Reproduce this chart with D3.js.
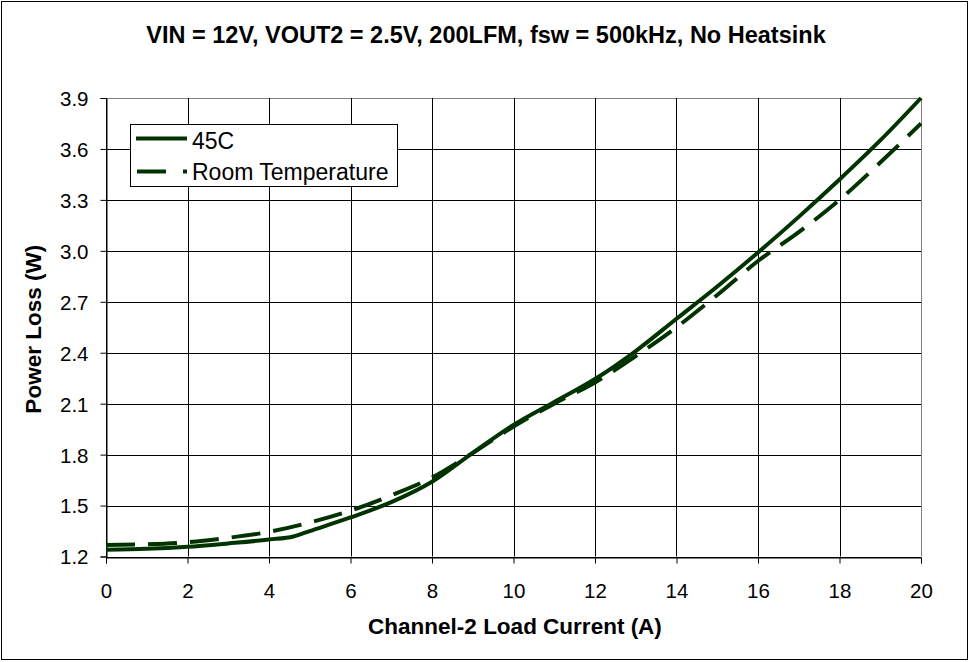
<!DOCTYPE html>
<html><head><meta charset="utf-8">
<script src="https://cdn.jsdelivr.net/npm/d3@7"></script>
<style>
body{margin:0;background:#fff;}
text{font-family:"Liberation Sans",Arial,sans-serif;}
</style></head>
<body><svg id="c" width="972" height="662"></svg>
<script>
const title = "VIN = 12V, VOUT2 = 2.5V, 200LFM, fsw = 500kHz, No Heatsink";
const xLabel = "Channel-2 Load Current (A)";
const yLabel = "Power Loss (W)";
const xTicks = [0,2,4,6,8,10,12,14,16,18,20];
const yTicks = [1.2,1.5,1.8,2.1,2.4,2.7,3.0,3.3,3.6,3.9];
const seriesNames = ["45C","Room Temperature"];
const x45 = [0,1,2,3,4,4.6,5,6,7,8,9,10,11,12,13,14,15,16,17,18,19,20];
const y45 = [1.24,1.245,1.257,1.277,1.30,1.318,1.35,1.43,1.52,1.64,1.81,1.975,2.11,2.245,2.41,2.60,2.79,2.99,3.20,3.42,3.65,3.90];
const xRoom = [0,1,2,3,4,5,6,7,8,9,10,11,12,13,14,15,16,17,18,19,20];
const yRoom = [1.268,1.272,1.284,1.31,1.345,1.40,1.47,1.56,1.665,1.81,1.965,2.10,2.225,2.38,2.55,2.74,2.94,3.11,3.30,3.52,3.75];

const svg = d3.select("#c");
const L=106, R=921, T=98, B=556.5;
const x = d3.scaleLinear().domain([0,20]).range([L,R]);
const y = d3.scaleLinear().domain([1.2,3.9]).range([B,T]);
const col = "#003300";

svg.append("rect").attr("x",1.5).attr("y",1.5).attr("width",966).attr("height",658)
  .attr("fill","#fff").attr("stroke","#000").attr("stroke-width",1);

svg.append("text").attr("x",486).attr("y",43.3).attr("text-anchor","middle")
  .attr("font-size",23.5).attr("font-weight","bold").text(title);

// grid
const g = svg.append("g");
g.selectAll(".hg").data(yTicks).join("line")
  .attr("x1",L).attr("x2",R).attr("y1",d=>Math.round(y(d))+0.5).attr("y2",d=>Math.round(y(d))+0.5)
  .attr("stroke",(d,i)=>i===yTicks.length-1?"#808080":"#000").attr("stroke-width",1);
g.selectAll(".vg").data(xTicks).join("line")
  .attr("y1",T).attr("y2",B).attr("x1",d=>Math.round(x(d))+0.5).attr("x2",d=>Math.round(x(d))+0.5)
  .attr("stroke",(d,i)=>i===xTicks.length-1?"#808080":"#000").attr("stroke-width",1);

// axes
const xa = svg.append("g").attr("transform",`translate(0,${Math.round(B)+0.5})`)
  .call(d3.axisBottom(x).tickValues(xTicks).tickFormat(d3.format("d")).tickSize(6).tickPadding(19.5));
xa.select(".domain").attr("stroke","#000");
xa.selectAll("text").attr("font-size",20.5).attr("fill","#000").style("font-family","Liberation Sans, Arial");
const ya = svg.append("g").attr("transform",`translate(${Math.round(L)+0.5},0)`)
  .call(d3.axisLeft(y).tickValues(yTicks).tickFormat(d3.format(".1f")).tickSize(6).tickPadding(12));
ya.selectAll("text").attr("font-size",20.5).attr("dy","0.36em").attr("fill","#000").style("font-family","Liberation Sans, Arial");

svg.append("text").attr("x",515).attr("y",634).attr("text-anchor","middle")
  .attr("font-size",22.5).attr("font-weight","bold").text(xLabel);
svg.append("text").attr("transform",`translate(40.5,${(T+B)/2+2}) rotate(-90)`).attr("text-anchor","middle")
  .attr("font-size",22.5).attr("font-weight","bold").text(yLabel);

// lines
const line = d3.line().curve(d3.curveMonotoneX);
const d45 = x45.map((v,i)=>[x(v),y(y45[i])]);
const dRoom = xRoom.map((v,i)=>[x(v),y(yRoom[i])]);
svg.append("path").attr("d",line(dRoom)).attr("fill","none").attr("stroke",col)
  .attr("stroke-width",4).attr("stroke-dasharray","29,13");
svg.append("path").attr("d",line(d45)).attr("fill","none").attr("stroke",col)
  .attr("stroke-width",4);

// legend
const lg = svg.append("g");
lg.append("rect").attr("x",130.5).attr("y",124.5).attr("width",267).attr("height",62)
  .attr("fill","#fff").attr("stroke","#000").attr("stroke-width",1);
lg.append("line").attr("x1",136).attr("x2",187).attr("y1",138.5).attr("y2",138.5)
  .attr("stroke",col).attr("stroke-width",4);
lg.append("line").attr("x1",137).attr("x2",187).attr("y1",171.5).attr("y2",171.5)
  .attr("stroke",col).attr("stroke-width",4).attr("stroke-dasharray","29,17");
lg.append("text").attr("x",192).attr("y",149).attr("font-size",23).text(seriesNames[0]);
lg.append("text").attr("x",192).attr("y",179.5).attr("font-size",23).text(seriesNames[1]);
</script></body></html>
